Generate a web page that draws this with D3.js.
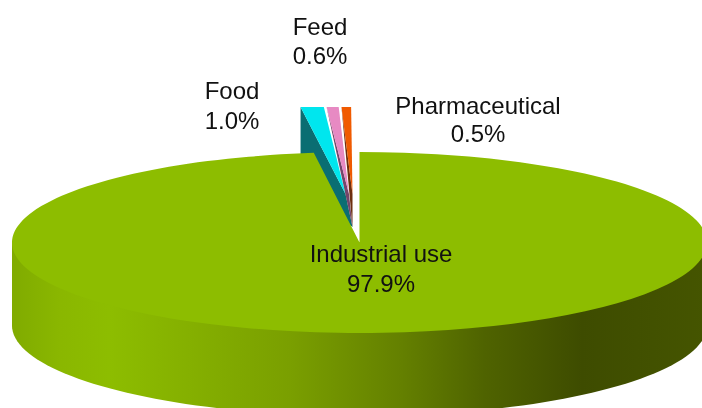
<!DOCTYPE html>
<html><head><meta charset="utf-8">
<script src="https://cdn.jsdelivr.net/npm/d3@7/dist/d3.min.js"></script>
<style>html,body{margin:0;padding:0;background:#fff}svg{display:block;filter:blur(0.4px)}text{font-family:"Liberation Sans",Arial,sans-serif;fill:#111;font-size:24px;text-anchor:middle}</style>
</head><body><svg width="702" height="408"></svg>
<script>
const categories = ["Industrial use", "Food", "Feed", "Pharmaceutical"];
const shares = [97.9, 1.0, 0.6, 0.5];
const shareLabels = ["97.9%", "1.0%", "0.6%", "0.5%"];
const faceColors = ["#8dbd00", "#00e6ee", "#e78ac3", "#f05a00"];
const wallColors = ["#8dbd00", "#0a6e72", "#74456a", "#6e2f10"];
const labelCentres = [[381, 262, 292], [232, 99, 129], [320, 35, 64], [478, 114, 142]];
const wallStopOffsets = [0, 0.07, 0.14, 0.4, 0.56, 0.68, 0.82, 1];
const wallStopColors = ["#80ab00", "#8ab700", "#8dbd00", "#7a9f00", "#648000", "#4f6300", "#3e4c00", "#455500"];

const W = 702, H = 408;
const cx = 359.5, cy = 242.5, rx = 347.5, ry = 90.5, depth = 83;
const svg = d3.select("svg");
const arcs = d3.pie().sort(null)(shares);

const grad = svg.append("defs").append("linearGradient").attr("id", "rim")
  .attr("gradientUnits", "userSpaceOnUse")
  .attr("x1", cx - rx).attr("x2", cx + rx).attr("y1", 0).attr("y2", 0);
wallStopOffsets.forEach((o, i) => grad.append("stop").attr("offset", o).attr("stop-color", wallStopColors[i]));

// exploded small slices: projection of the lifted wedges, cut flat along the top
const bx = 352.5, by = 227, ex = 395, ey = 120, lift = 33;
const outer = a => [bx + ex * Math.sin(a), by - ey];
const inset = 0.0035;
const small = arcs.slice(1);
const liftedG = svg.append("g");
const line = d3.line();
small.forEach((s, i) => {
  const a0 = s.startAngle + (i === 0 ? 0 : inset), a1 = s.endAngle - inset;
  const apex = [bx - 7 + i * 3.5, by - lift];
  const o0 = outer(a0), o1 = outer(a1);
  const wall = i === 0 ? [o0, [o0[0], o0[1] + depth], [bx, by], apex] : [o0, [bx, by], apex];
  liftedG.append("path").attr("fill", wallColors[i + 1]).attr("d", line(wall) + "Z");
  liftedG.append("path").attr("fill", faceColors[i + 1]).attr("d", line([o0, o1, apex]) + "Z");
});

const rimAngles = d3.range(90, 271, 2).map(d => d * Math.PI / 180);
svg.append("path").attr("fill", "url(#rim)")
  .attr("d", d3.area()
    .x(a => cx + rx * Math.sin(a))
    .y0(a => cy)
    .y1(a => cy - ry * Math.cos(a) + depth)(rimAngles));

svg.append("path").attr("fill", faceColors[0])
  .attr("transform", `translate(${cx},${cy}) scale(1,${ry / rx})`)
  .attr("d", d3.arc().innerRadius(0).outerRadius(rx)(arcs[0]));

categories.forEach((c, i) => {
  const [x, y1, y2] = labelCentres[i];
  svg.append("text").attr("x", x).attr("y", y1).text(c);
  svg.append("text").attr("x", x).attr("y", y2).text(shareLabels[i]);
});
</script></body></html>
